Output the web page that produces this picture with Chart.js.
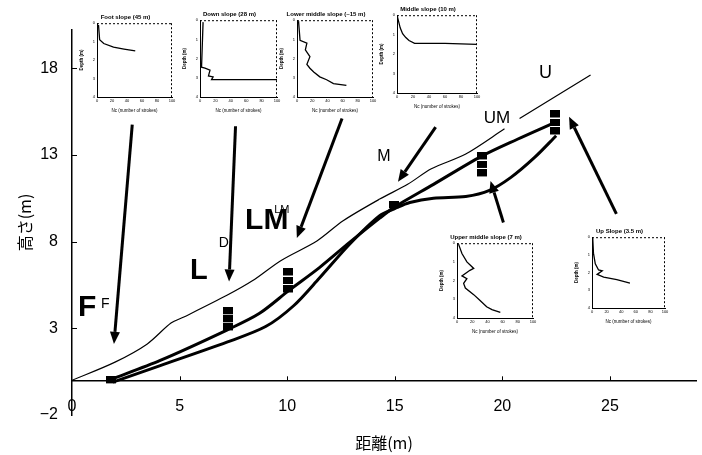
<!DOCTYPE html>
<html>
<head>
<meta charset="utf-8">
<script src="https://cdn.jsdelivr.net/npm/chart.js@4.4.1/dist/chart.umd.min.js"></script>
<style>
  body { margin: 0; background: #fff; }
  #wrap { position: relative; width: 702px; height: 455px; }
  #wrap canvas { position: absolute; left: 0; top: 0; }
</style>
</head>
<body>
<div id="wrap">
  <canvas id="main" width="702" height="455"></canvas>
</div>
<script>
// axes
const xTicks = [0, 5, 10, 15, 20, 25];
const yTicks = [-2, 3, 8, 13, 18];

// ground surface (thin line), null = break in the line
const surfaceX = [0, 2.0, 3.5, 4.6, 5.2, 7.2, 8.4, 9.7, 11.4, 12.6, 14.3, 15.6, 16.7, 18.3, 20.1, 20.4, 20.8, 24.1];
const surfaceY = [0, 1.05, 2.1, 3.3, 3.65, 4.9, 5.75, 6.9, 8.05, 9.2, 10.45, 11.3, 12.2, 13.05, 14.5, null, 15.1, 17.6];

// two thick lines
const upperX = [1.8, 4.1, 7.2, 8.7, 10.1, 11.5, 12.9, 14.3, 15.0, 16.8, 19.0, 20.7, 22.5];
const upperY = [0.05, 1.15, 2.9, 3.85, 5.2, 6.5, 7.95, 9.35, 10.0, 11.3, 12.9, 13.9, 14.9];
const lowerX = [1.9, 4.1, 7.2, 9.0, 10.3, 11.5, 12.9, 14.3, 15.0, 15.7, 16.8, 18.3, 19.4, 20.4, 21.5, 22.5];
const lowerY = [-0.1, 0.85, 2.2, 3.1, 4.3, 5.9, 7.85, 9.5, 9.9, 10.25, 10.5, 10.6, 10.95, 11.7, 12.85, 14.1];

// pit blocks (black squares)
const pitX = [1.8, 7.25, 7.25, 7.25, 10.05, 10.05, 10.05, 14.95, 19.07, 19.07, 19.07, 22.47, 22.47, 22.47];
const pitY = [0.0, 3.98, 3.52, 3.05, 6.22, 5.73, 5.24, 10.1, 12.91, 12.42, 11.93, 15.33, 14.84, 14.35];

// arrows
const arrowFromX = [2.8, 7.6, 12.55, 16.9, 20.05, 25.3];
const arrowFromY = [14.75, 14.65, 15.1, 14.6, 9.1, 9.6];
const arrowToX = [1.95, 7.3, 10.45, 15.15, 19.45, 23.1];
const arrowToY = [2.1, 5.7, 8.2, 11.45, 11.5, 15.2];

// labels
const labelText = ['F', 'F', 'L', 'D', 'LM', 'LM', 'M', 'UM', 'U'];
const labelX = [0.7, 1.55, 5.9, 7.05, 9.05, 9.75, 14.5, 19.75, 22.0];
const labelY = [4.2, 4.4, 6.3, 7.9, 9.2, 9.85, 12.9, 15.1, 17.7];
const labelSize = [30, 14, 29, 14, 30, 11, 16, 17, 18];
const labelBold = [true, false, true, false, true, false, false, false, false];

// insets: penetration profiles
const insetTitles = ['Foot slope (45 m)', 'Down slope (28 m)', 'Lower middle slope (~15 m)',
  'Middle slope (10 m)', 'Upper middle slope (7 m)', 'Up Slope (3.5 m)'];
const insetNcTicks = [0, 20, 40, 60, 80, 100];
const insetDepthTicks = [0, 1, 2, 3, 4];
const inset1Nc = [2, 3.5, 9, 22, 36, 51];
const inset1Depth = [0.1, 0.9, 1.1, 1.3, 1.4, 1.5];
const inset2Nc = [4, 2, 6.5, 13, 11, 17, 15, 100];
const inset2Depth = [0.1, 2.45, 2.5, 2.6, 2.9, 2.95, 3.1, 3.1];
const inset3Nc = [2, 4, 13, 11, 17, 13, 17, 22, 30, 39, 48, 65];
const inset3Depth = [0.05, 1.05, 1.2, 1.55, 1.9, 2.3, 2.5, 2.7, 2.95, 3.1, 3.3, 3.4];
const inset4Nc = [0, 4, 7, 11, 15, 22, 60, 100];
const inset4Depth = [0, 0.65, 0.95, 1.15, 1.3, 1.45, 1.45, 1.5];
const inset5Nc = [2, 6.5, 13, 22, 17, 6.5, 13, 8.7, 11, 22, 30, 39, 46, 57];
const inset5Depth = [0.05, 0.55, 1.0, 1.35, 1.45, 1.75, 1.9, 2.15, 2.4, 2.75, 3.05, 3.4, 3.55, 3.7];
const inset6Nc = [1, 2, 4.5, 9, 14, 7, 16, 34, 52];
const inset6Depth = [0.05, 0.9, 1.5, 1.85, 1.9, 2.1, 2.25, 2.4, 2.6];

const insetNc = [inset1Nc, inset2Nc, inset3Nc, inset4Nc, inset5Nc, inset6Nc];
const insetDepth = [inset1Depth, inset2Depth, inset3Depth, inset4Depth, inset5Depth, inset6Depth];
// plot box of each inset on the page: left, top, width, height
const insetBoxes = [[97, 23, 75, 74], [200, 20, 77, 77], [297, 20, 76, 77],
  [397, 15, 80, 78], [457, 243, 76, 75], [592, 237, 73, 71]];

const LAT = "'Liberation Sans', Arial, sans-serif";
const JP = "'Noto Sans CJK JP', sans-serif";

function pairs(xs, ys) {
  return xs.map((x, i) => ({ x: x, y: ys[i] }));
}

// block marker for the pits
const block = document.createElement('canvas');
block.width = 10; block.height = 8;
(function () {
  const c = block.getContext('2d');
  c.fillStyle = '#fff'; c.fillRect(0, 0, 10, 8);
  c.fillStyle = '#000'; c.fillRect(0, 0, 10, 7);
})();

const annotations = {
  id: 'annotations',
  afterDatasetsDraw(chart) {
    const { ctx } = chart;
    const sx = chart.scales.x, sy = chart.scales.y;
    ctx.save();
    // arrows
    ctx.strokeStyle = '#000';
    ctx.fillStyle = '#000';
    ctx.lineWidth = 3;
    for (let i = 0; i < arrowFromX.length; i++) {
      const x1 = sx.getPixelForValue(arrowFromX[i]), y1 = sy.getPixelForValue(arrowFromY[i]);
      const x2 = sx.getPixelForValue(arrowToX[i]), y2 = sy.getPixelForValue(arrowToY[i]);
      const a = Math.atan2(y2 - y1, x2 - x1);
      const hl = 12, hw = 5;
      const bx = x2 - hl * Math.cos(a), by = y2 - hl * Math.sin(a);
      ctx.beginPath(); ctx.moveTo(x1, y1); ctx.lineTo(bx, by); ctx.stroke();
      ctx.beginPath();
      ctx.moveTo(x2, y2);
      ctx.lineTo(bx + hw * Math.sin(a), by - hw * Math.cos(a));
      ctx.lineTo(bx - hw * Math.sin(a), by + hw * Math.cos(a));
      ctx.closePath(); ctx.fill();
    }
    // labels
    ctx.textAlign = 'center';
    ctx.textBaseline = 'middle';
    for (let i = 0; i < labelText.length; i++) {
      ctx.font = (labelBold[i] ? 'bold ' : '') + labelSize[i] + 'px ' + LAT;
      ctx.fillText(labelText[i], sx.getPixelForValue(labelX[i]), sy.getPixelForValue(labelY[i]));
    }
    // small inward tick marks
    ctx.lineWidth = 1;
    const y0 = sy.getPixelForValue(0);
    xTicks.forEach(v => {
      if (v === 0) return;
      const px = Math.round(sx.getPixelForValue(v)) + 0.5;
      ctx.beginPath(); ctx.moveTo(px, y0); ctx.lineTo(px, y0 - 4); ctx.stroke();
    });
    yTicks.forEach(v => {
      if (v === -2) return;
      const py = Math.round(sy.getPixelForValue(v)) + 0.5;
      ctx.beginPath(); ctx.moveTo(sx.left, py); ctx.lineTo(sx.left + 5, py); ctx.stroke();
    });
    ctx.restore();
  }
};

new Chart(document.getElementById('main'), {
  type: 'scatter',
  data: {
    datasets: [
      { data: pairs(surfaceX, surfaceY), showLine: true, borderColor: '#000', borderWidth: 1.2, pointRadius: 0, tension: 0.3, spanGaps: false },
      { data: pairs(upperX, upperY), showLine: true, borderColor: '#000', borderWidth: 3, pointRadius: 0, tension: 0.3 },
      { data: pairs(lowerX, lowerY), showLine: true, borderColor: '#000', borderWidth: 3, pointRadius: 0, tension: 0.3 },
      { data: pairs(pitX, pitY), pointStyle: block, pointRadius: 5, showLine: false }
    ]
  },
  options: {
    responsive: false,
    animation: false,
    layout: { padding: { top: 30, right: 6, left: 0, bottom: 0 } },
    plugins: { legend: { display: false }, tooltip: { enabled: false } },
    scales: {
      x: {
        type: 'linear',
        position: { y: 0 },
        min: 0, max: 29,
        afterBuildTicks: s => { s.ticks = xTicks.map(v => ({ value: v })); },
        afterFit: s => { s.height = 0; },
        grid: { display: false, drawTicks: false },
        border: { color: '#000', width: 1.5 },
        ticks: { color: '#000', font: { family: LAT, size: 16 }, padding: 17, maxRotation: 0, autoSkip: false }
      },
      xt: {
        type: 'linear',
        position: 'bottom',
        afterFit: s => { s.height = 40; },
        grid: { display: false, drawTicks: false },
        border: { display: false },
        ticks: { display: false },
        title: { display: true, text: '距離(m)', color: '#000', font: { family: JP, size: 16 }, padding: { top: 0, bottom: 2 } }
      },
      y: {
        min: -2, max: 20.2,
        afterBuildTicks: s => { s.ticks = yTicks.map(v => ({ value: v })); },
        afterFit: s => { s.width = 72; },
        grid: { display: false, drawTicks: false },
        border: { color: '#000', width: 1.5 },
        ticks: { color: '#000', font: { family: LAT, size: 16 }, padding: 14,
          callback: v => String(v).replace('-', '\u2212') },
        title: { display: true, text: '高さ(m)', color: '#000', font: { family: JP, size: 16 }, padding: { top: 15, bottom: 0 } }
      }
    }
  },
  plugins: [annotations]
});

// dashed frame round each inset plot
const dashFrame = {
  id: 'dashFrame',
  afterDraw(chart) {
    const { ctx, chartArea: a } = chart;
    ctx.save();
    ctx.strokeStyle = '#000';
    ctx.lineWidth = 1;
    ctx.setLineDash([2, 2]);
    ctx.beginPath();
    ctx.moveTo(a.left, a.top + 0.5); ctx.lineTo(a.right, a.top + 0.5);
    ctx.moveTo(a.right - 0.5, a.top); ctx.lineTo(a.right - 0.5, a.bottom);
    ctx.stroke();
    ctx.restore();
  }
};

const wrap = document.getElementById('wrap');
insetBoxes.forEach((b, i) => {
  const L = 18, T = 12, R = 8, B = 16;
  const cv = document.createElement('canvas');
  cv.width = b[2] + L + R;
  cv.height = b[3] + T + B;
  cv.style.left = (b[0] - L) + 'px';
  cv.style.top = (b[1] - T) + 'px';
  wrap.appendChild(cv);
  new Chart(cv, {
    type: 'scatter',
    data: {
      datasets: [{ data: pairs(insetNc[i], insetDepth[i]), showLine: true, borderColor: '#000', borderWidth: 1.3, pointRadius: 0 }]
    },
    options: {
      responsive: false,
      animation: false,
      layout: { padding: { top: 1, right: R, left: 0, bottom: 0 } },
      plugins: {
        legend: { display: false },
        tooltip: { enabled: false },
        title: { display: true, text: insetTitles[i], color: '#000', font: { family: LAT, size: 6, weight: 'bold' }, padding: { top: 2, bottom: 2 } }
      },
      scales: {
        x: {
          min: 0, max: 100,
          afterBuildTicks: s => { s.ticks = insetNcTicks.map(v => ({ value: v })); },
          afterFit: s => { s.height = B; },
          grid: { display: false, drawTicks: false },
          border: { color: '#000', width: 1 },
          ticks: { color: '#000', font: { family: LAT, size: 4 }, padding: 1, maxRotation: 0, autoSkip: false },
          title: { display: true, text: 'Nc (number of strokes)', color: '#000', font: { family: LAT, size: 4.5 }, padding: 0 }
        },
        y: {
          reverse: true, min: 0, max: 4,
          afterBuildTicks: s => { s.ticks = insetDepthTicks.map(v => ({ value: v })); },
          afterFit: s => { s.width = L; },
          grid: { display: false, drawTicks: false },
          border: { color: '#000', width: 1, dash: [2, 2] },
          ticks: { color: '#000', font: { family: LAT, size: 4 }, padding: 2 },
          title: { display: true, text: 'Depth (m)', color: '#000', font: { family: LAT, size: 4.5, weight: 'bold' }, padding: 0 }
        }
      }
    },
    plugins: [dashFrame]
  });
});
</script>
</body>
</html>
